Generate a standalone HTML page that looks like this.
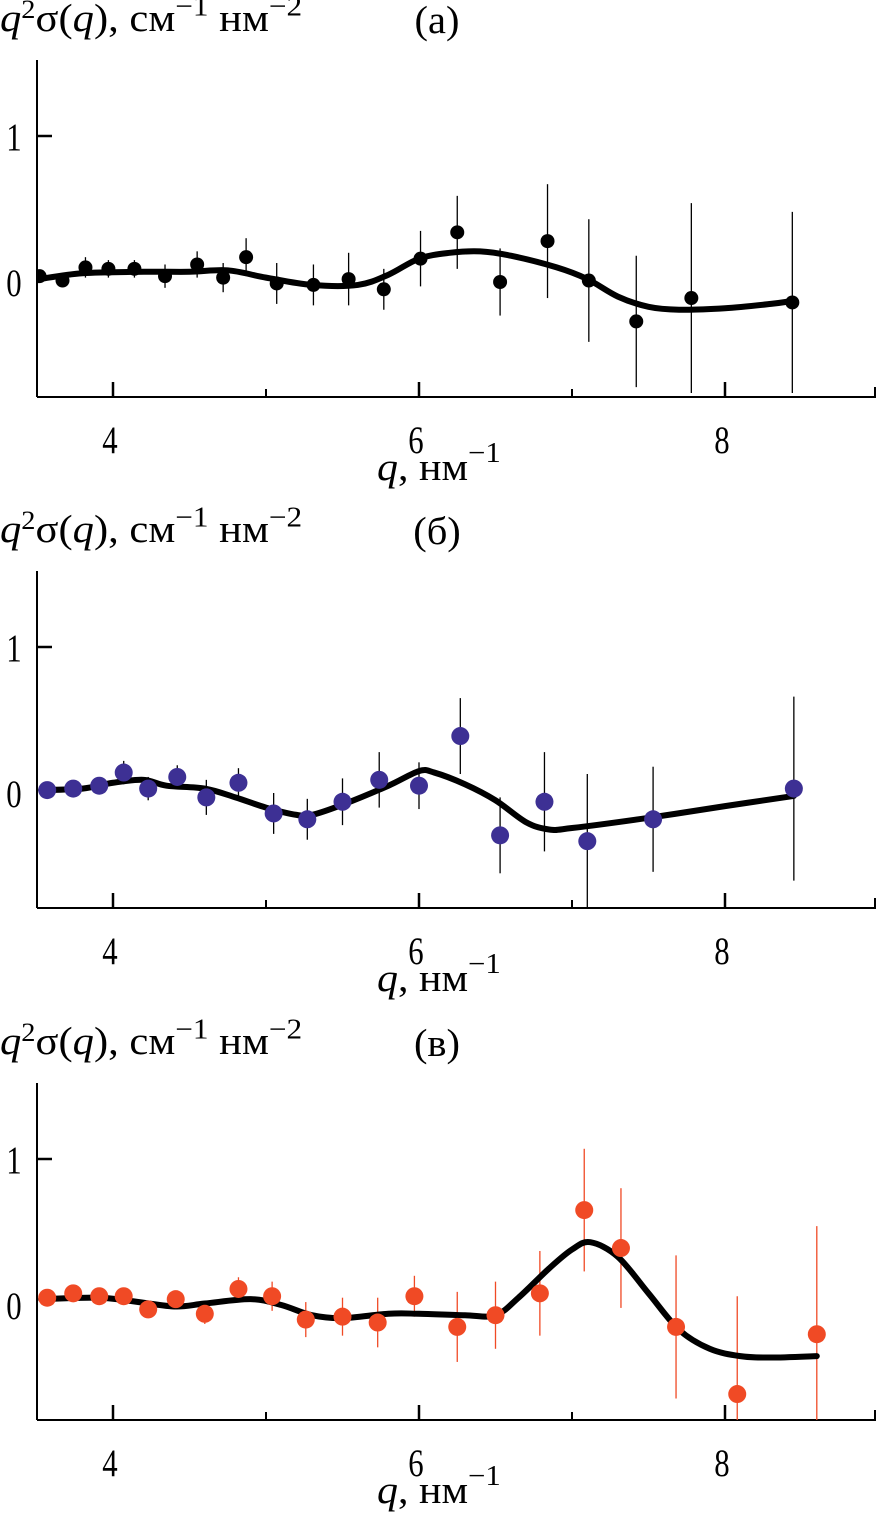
<!DOCTYPE html>
<html><head><meta charset="utf-8"><style>
html,body{margin:0;padding:0;background:#fff}
svg{display:block}
text{font-family:"Liberation Serif","Times New Roman",serif;fill:#000}
</style></head><body>
<svg id="chart" width="880" height="1530" viewBox="0 0 880 1530"></svg>
<script>
// ---- data ----
const panelLabels = ["(а)", "(б)", "(в)"];
const xTicks = [4, 6, 8];
const yTicks = [0, 1];
const aX = [3.52,3.67,3.82,3.97,4.14,4.34,4.55,4.72,4.87,5.07,5.31,5.54,5.77,6.01,6.25,6.53,6.84,7.11,7.42,7.78,8.44];
const aY = [0.04,0.01,0.10,0.09,0.09,0.04,0.12,0.03,0.17,-0.01,-0.02,0.02,-0.05,0.16,0.34,0.00,0.28,0.01,-0.27,-0.11,-0.14];
const aErr = [0.03,0.04,0.07,0.06,0.06,0.08,0.09,0.1,0.13,0.14,0.14,0.18,0.14,0.19,0.25,0.23,0.39,0.42,0.45,0.65,0.62];
const aFitX = [3.52,3.8,4.2,4.5,4.75,5.0,5.3,5.6,5.8,6.0,6.2,6.4,6.6,6.9,7.1,7.3,7.5,7.7,8.0,8.3,8.44];
const aFitY = [0.02,0.06,0.07,0.07,0.08,0.03,-0.02,-0.02,0.05,0.16,0.2,0.21,0.18,0.1,0.02,-0.1,-0.17,-0.19,-0.18,-0.15,-0.13];
const bX = [3.57,3.74,3.91,4.07,4.23,4.42,4.61,4.82,5.05,5.27,5.50,5.74,6.0,6.27,6.53,6.82,7.1,7.53,8.45];
const bY = [0.02,0.03,0.05,0.14,0.03,0.11,-0.03,0.07,-0.14,-0.18,-0.06,0.09,0.05,0.39,-0.29,-0.06,-0.33,-0.18,0.03];
const bErr = [0.03,0.03,0.04,0.08,0.08,0.08,0.12,0.1,0.14,0.14,0.16,0.19,0.16,0.26,0.26,0.34,0.46,0.36,0.63];
const bFitX = [3.53,3.8,4.0,4.2,4.35,4.6,4.8,5.0,5.2,5.3,5.5,5.8,6.0,6.1,6.3,6.5,6.7,6.85,7.0,7.5,8.0,8.45];
const bFitY = [0.02,0.03,0.07,0.09,0.05,0.03,-0.03,-0.10,-0.15,-0.15,-0.08,0.05,0.15,0.14,0.06,-0.05,-0.2,-0.25,-0.24,-0.17,-0.09,-0.02];
const cX = [3.57,3.74,3.91,4.07,4.23,4.41,4.60,4.82,5.04,5.26,5.50,5.73,5.97,6.25,6.50,6.79,7.08,7.32,7.68,8.08,8.60];
const cY = [0.05,0.08,0.06,0.06,-0.03,0.04,-0.06,0.11,0.06,-0.10,-0.08,-0.12,0.06,-0.15,-0.07,0.08,0.65,0.39,-0.15,-0.61,-0.20];
const cErr = [0.04,0.04,0.04,0.05,0.06,0.05,0.07,0.08,0.1,0.12,0.13,0.17,0.14,0.24,0.23,0.29,0.42,0.41,0.49,0.67,0.74];
const cFitX = [3.53,3.9,4.1,4.4,4.6,4.9,5.1,5.3,5.5,5.8,6.0,6.3,6.5,6.65,6.85,7.0,7.12,7.3,7.5,7.7,7.9,8.1,8.3,8.6];
const cFitY = [0.04,0.05,0.03,-0.01,0.01,0.04,0.0,-0.07,-0.09,-0.06,-0.06,-0.07,-0.07,0.05,0.25,0.38,0.43,0.33,0.08,-0.17,-0.3,-0.35,-0.36,-0.35];

const panels = [
  {off:0, xs:aX, ys:aY, es:aErr, fx:aFitX, fy:aFitY, color:"#000", r:7, ecol:"#000"},
  {off:511, xs:bX, ys:bY, es:bErr, fx:bFitX, fy:bFitY, color:"#3d3094", r:9, ecol:"#000"},
  {off:1023, xs:cX, ys:cY, es:cErr, fx:cFitX, fy:cFitY, color:"#f04a25", r:9, ecol:"#f04a25"}
];
const NS = "http://www.w3.org/2000/svg";
const svg = document.getElementById("chart");
function el(tag, attrs, parent){const e=document.createElementNS(NS,tag);for(const k in attrs)e.setAttribute(k,attrs[k]);(parent||svg).appendChild(e);return e;}
function txt(x,y,size,anchor,parent,sx,sy){return el("text",{transform:"translate("+x+","+y+") scale("+sx+","+sy+")","font-size":size,"text-anchor":anchor},parent);}
const xs = v => 113 + (v-4)*153;
const X0=37, X1=876;

panels.forEach((p,i)=>{
  const ys = v => 282 + p.off - v*146;
  const top = 60 + p.off, bot = 397 + p.off;
  const g = el("g",{});
  
  
  const clip = el("clipPath",{id:"clip"+i},g);
  el("rect",{x:X0,y:top,width:X1-X0,height:bot-top},clip);
  const ya = el("line",{x1:X0,y1:top,x2:X0,y2:bot,stroke:"#000","stroke-width":2},g);
  
  
  const xa = el("line",{x1:X0,y1:bot,x2:X1,y2:bot,stroke:"#000","stroke-width":2},g);
  
  
  el("line",{x1:X1-1,y1:bot,x2:X1-1,y2:bot-10,stroke:"#000","stroke-width":2},g);
  xTicks.forEach(t=>{
    el("line",{x1:xs(t),y1:bot,x2:xs(t),y2:bot-15,stroke:"#000","stroke-width":2.5},g);
    const tx = txt(xs(t)-3,bot+56,28,"middle",g,1.1,1.4);
    tx.textContent=t;
    
    
  });
  [5,7].forEach(t=>el("line",{x1:xs(t),y1:bot,x2:xs(t),y2:bot-8,stroke:"#000","stroke-width":2},g));
  yTicks.forEach(t=>{
    if(t===1) el("line",{x1:X0,y1:ys(t),x2:X0+15,y2:ys(t),stroke:"#000","stroke-width":2.5},g);
    const tx = txt(14,ys(t)+14,28,"middle",g,1.1,1.4);
    tx.textContent=t;
    
    
  });
  const yt = txt(0,31+p.off,30,"start",g,1.42,1.3);
  yt.innerHTML='<tspan font-style="italic">q</tspan><tspan dy="-10" font-size="20">2</tspan><tspan dy="10">σ(</tspan><tspan font-style="italic">q</tspan><tspan>), см</tspan><tspan dy="-12" font-size="22">−1</tspan><tspan dy="12"> нм</tspan><tspan dy="-12" font-size="22">−2</tspan>';
  
  
  const pl = txt(437,33+p.off,30,"middle",g,1.35,1.3);
  pl.textContent=panelLabels[i];
  
  
  const xt = txt(377,480+p.off,30,"start",g,1.4,1.3);
  xt.innerHTML='<tspan font-style="italic">q</tspan><tspan>, нм</tspan><tspan dy="-14" font-size="22">−1</tspan>';
  
  
  const dg = el("g",{"clip-path":"url(#clip"+i+")"},g);
  p.xs.forEach((x,j)=>{
    const eb = el("line",{x1:xs(x),x2:xs(x),y1:ys(p.ys[j]+p.es[j]),y2:ys(p.ys[j]-p.es[j]),stroke:p.ecol,"stroke-width":1.3},dg);
    
    
  });
  const pts = p.fx.map((x,j)=>[xs(x),ys(p.fy[j])]);
  let d = "M"+pts[0][0]+","+pts[0][1];
  for(let k=0;k<pts.length-1;k++){
    const p0=pts[Math.max(0,k-1)],p1=pts[k],p2=pts[k+1],p3=pts[Math.min(pts.length-1,k+2)];
    const c1=[p1[0]+(p2[0]-p0[0])/6,p1[1]+(p2[1]-p0[1])/6];
    const c2=[p2[0]-(p3[0]-p1[0])/6,p2[1]-(p3[1]-p1[1])/6];
    d+=" C"+c1+" "+c2+" "+p2;
  }
  const fit = el("path",{d:d,fill:"none",stroke:"#000","stroke-width":6,"stroke-linecap":"round"},dg);
  
  
  p.xs.forEach((x,j)=>{
    const c = el("circle",{cx:xs(x),cy:ys(p.ys[j]),r:p.r,fill:p.color},dg);
    
    
  });
});
</script>
</body></html>
